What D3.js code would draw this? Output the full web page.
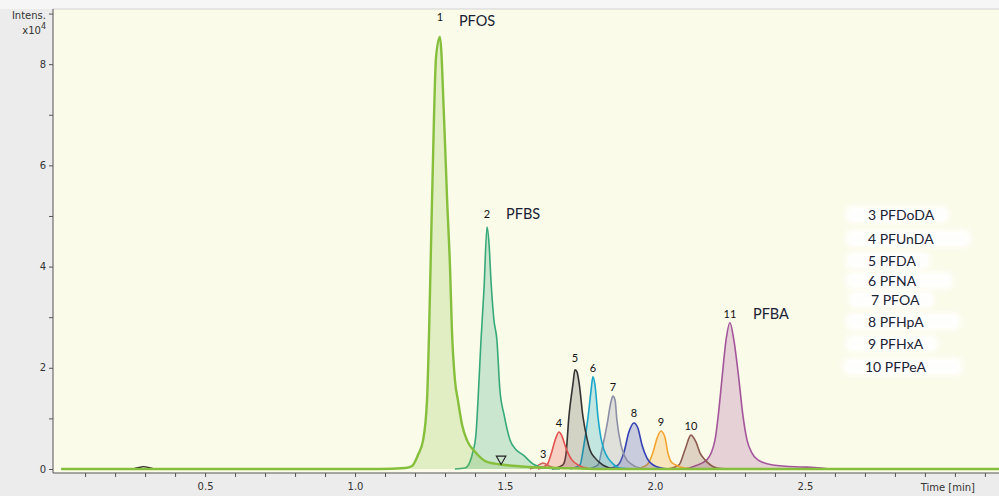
<!DOCTYPE html>
<html>
<head>
<meta charset="utf-8">
<script src="https://cdn.jsdelivr.net/npm/d3@7"></script>
<style>
  body { margin: 0; background: #fff; }
  svg { display: block; }
  .axis text { font-family: "DejaVu Sans", sans-serif; font-size: 10px; fill: #333; }
  .axis path, .axis line { stroke: #555; }
</style>
</head>
<body>
<script>
// chromatogram traces, [time (min), intensity (x10^4)]
var pfos = [[0.02,0],[1.08,0],[1.167,0.02],[1.19,0.06],[1.21,0.28],[1.227,0.57],[1.24,1.36],[1.247,2.75],[1.253,4.33],[1.263,6.9],[1.27,8.14],[1.283,8.54],[1.297,6.9],[1.307,5.32],[1.317,3.93],[1.323,2.75],[1.333,1.76],[1.343,1.36],[1.357,0.87],[1.373,0.57],[1.4,0.34],[1.44,0.14],[1.5,0.08],[1.583,0.04],[1.683,0.02],[1.817,0],[3.147,0]];
var pfbs = [[1.333,0],[1.367,0.02],[1.383,0.14],[1.393,0.34],[1.403,0.67],[1.41,1.36],[1.42,2.55],[1.43,3.56],[1.44,4.78],[1.447,4.43],[1.453,3.75],[1.463,2.95],[1.473,2.55],[1.483,1.56],[1.497,1.07],[1.517,0.57],[1.537,0.38],[1.56,0.28],[1.593,0.1],[1.633,0.02],[1.683,0]];
var pfdoda = [[1.583,0],[1.607,0.06],[1.627,0.12],[1.647,0.06],[1.67,0]];
var pfunda = [[1.61,0],[1.64,0.08],[1.653,0.28],[1.667,0.57],[1.68,0.73],[1.69,0.65],[1.7,0.47],[1.713,0.28],[1.723,0.18],[1.75,0.06],[1.79,0]];
var pfda = [[1.657,0],[1.693,0.08],[1.703,0.28],[1.713,1.03],[1.727,1.7],[1.733,1.96],[1.74,1.92],[1.747,1.7],[1.76,1.03],[1.773,0.61],[1.783,0.38],[1.8,0.22],[1.817,0.12],[1.85,0.02],[1.9,0]];
var pfna = [[1.717,0],[1.75,0.08],[1.763,0.47],[1.777,1.03],[1.787,1.56],[1.793,1.82],[1.8,1.66],[1.81,1.03],[1.82,0.61],[1.83,0.38],[1.843,0.22],[1.86,0.1],[1.883,0.02],[1.933,0]];
var pfoa = [[1.777,0],[1.81,0.08],[1.823,0.38],[1.84,0.87],[1.853,1.32],[1.86,1.44],[1.867,1.36],[1.873,0.97],[1.887,0.47],[1.9,0.24],[1.92,0.1],[1.95,0.02],[1.99,0]];
var pfhpa = [[1.843,0],[1.877,0.08],[1.897,0.34],[1.913,0.73],[1.93,0.91],[1.943,0.81],[1.957,0.47],[1.973,0.22],[2.0,0.06],[2.043,0]];
var pfhxa = [[1.937,0],[1.973,0.08],[1.993,0.32],[2.007,0.61],[2.02,0.75],[2.033,0.63],[2.043,0.32],[2.057,0.12],[2.1,0.02],[2.133,0]];
var pfpea = [[2.043,0],[2.08,0.08],[2.1,0.38],[2.12,0.67],[2.137,0.53],[2.15,0.32],[2.167,0.18],[2.207,0.02],[2.243,0]];
var pfba = [[2.1,0],[2.133,0.06],[2.173,0.18],[2.2,0.57],[2.213,1.17],[2.223,1.76],[2.237,2.55],[2.25,2.89],[2.263,2.55],[2.28,1.76],[2.293,1.07],[2.307,0.57],[2.323,0.32],[2.343,0.18],[2.393,0.08],[2.483,0.04],[2.533,0.03],[2.583,0]];
var blip = [[0.26,0],[0.28,0.03],[0.295,0.045],[0.31,0.03],[0.33,0]];

var peakNumbers = [1, 2, 3, 4, 5, 6, 7, 8, 9, 10, 11];
var traces = [pfos, pfbs, pfdoda, pfunda, pfda, pfna, pfoa, pfhpa, pfhxa, pfpea, pfba];
var colors = ["#86bf3c", "#36a97a", "#d4605a", "#e2504e", "#333333", "#1ba7c9", "#8d8fa6", "#3340b5", "#f4a531", "#8a5b4e", "#a3559a"];

// names written next to peaks 1, 2, 11
var namedPeaks = [1, 2, 11];
var peakNames = ["PFOS", "PFBS", "PFBA"];

var legendLines = ["3 PFDoDA", "4 PFUnDA", "5 PFDA", "6 PFNA", "7 PFOA", "8 PFHpA", "9 PFHxA", "10 PFPeA"];

var markerTime = 1.487, markerValue = 0.2;

var yTicks = [0, 1, 2, 3, 4, 5, 6, 7, 8, 9];
var xTicks = d3.range(1, 32).map(function(i) { return i / 10; });
var xLabels = [0.5, 1.0, 1.5, 2.0, 2.5];

var W = 999, H = 496;
var pL = 53, pT = 9, pR = 999, pB = 473;

var svg = d3.select("body").append("svg")
    .attr("width", W)
    .attr("height", H);

var defs = svg.append("defs");
defs.append("filter").attr("id", "soft")
    .attr("x", "-20%").attr("y", "-60%").attr("width", "140%").attr("height", "220%")
  .append("feGaussianBlur").attr("stdDeviation", 2.5);

// backgrounds
svg.append("rect").attr("width", W).attr("height", H).attr("fill", "#ececec");
svg.append("rect").attr("width", W).attr("height", pT).attr("fill", "#f6f6f6");
svg.append("rect")
    .attr("x", pL).attr("y", pT)
    .attr("width", pR - pL).attr("height", pB - pT)
    .attr("fill", "#fbfbea");
svg.append("line")
    .attr("x1", pL).attr("x2", pR).attr("y1", pT).attr("y2", pT)
    .attr("stroke", "#d4d4d4");

var x = d3.scaleLinear().domain([-0.007, 3.147]).range([pL, pR]);
var y = d3.scaleLinear().domain([0, 9.09]).range([469, pT]);

// legend with the white smudges behind it
var lg = svg.append("g");
var legendY = [215, 239, 261, 281, 300, 322, 344, 367];
legendLines.forEach(function(t, i) {
  var tx = (i === 7) ? 865 : (i === 4 ? 871 : 868);
  var txt = lg.append("text")
      .attr("x", tx).attr("y", legendY[i] + 5)
      .attr("font-family", "Lato, 'Open Sans', sans-serif")
      .attr("font-size", 14)
      .attr("fill", "#1a2233")
      .text(t);
  var bb = txt.node().getBBox();
  lg.insert("rect", "text")
      .attr("x", bb.x - 22).attr("y", bb.y)
      .attr("width", bb.width + 36 + (i % 2) * 22).attr("height", bb.height)
      .attr("rx", 6)
      .attr("filter", "url(#soft)")
      .attr("fill", "#ffffff").attr("opacity", 0.95);
});

var area = d3.area()
    .x(function(d) { return x(d[0]); })
    .y0(y(0))
    .y1(function(d) { return y(d[1]); })
    .curve(d3.curveMonotoneX);
var line = d3.line()
    .x(function(d) { return x(d[0]); })
    .y(function(d) { return y(d[1]); })
    .curve(d3.curveMonotoneX);

var plot = svg.append("g");

plot.append("path")
    .datum(blip)
    .attr("d", line)
    .attr("fill", "none")
    .attr("stroke", "#222")
    .attr("stroke-width", 1.3);

// draw back to front so PFOS (with the full baseline) sits on top
for (var i = traces.length - 1; i >= 0; i--) {
  plot.append("path")
      .datum(traces[i])
      .attr("d", area)
      .attr("fill", colors[i])
      .attr("fill-opacity", i === 4 ? 0.2 : (i === 0 ? 0.22 : 0.25));
  plot.append("path")
      .datum(traces[i])
      .attr("d", line)
      .attr("fill", "none")
      .attr("stroke", colors[i])
      .attr("stroke-width", i === 0 ? 2.4 : 1.6)
      .attr("stroke-linejoin", "round");
}

// peak numbers
var lift = {1: 16, 2: 9, 5: 8, 8: 6};
peakNumbers.forEach(function(n, i) {
  var apex = traces[i].reduce(function(a, b) { return b[1] > a[1] ? b : a; });
  plot.append("text")
      .attr("x", x(apex[0]))
      .attr("y", y(apex[1]) - (lift[n] || 5))
      .attr("text-anchor", "middle")
      .attr("font-family", "Lato, sans-serif")
      .attr("font-size", 11)
      .attr("fill", "#111")
      .text(n);
  var k = namedPeaks.indexOf(n);
  if (k >= 0) {
    plot.append("text")
        .attr("x", x(apex[0]) + (n === 11 ? 23 : 19))
        .attr("y", y(apex[1]) - (n === 1 ? 11 : (n === 2 ? 8 : 4)))
        .attr("font-family", "Lato, sans-serif")
        .attr("font-size", 14.5)
        .attr("fill", "#1a2233")
        .text(peakNames[k]);
  }
});

// open triangle marker
plot.append("path")
    .attr("d", d3.symbol().type(d3.symbolTriangle).size(40))
    .attr("transform", "translate(" + x(markerTime) + "," + y(markerValue) + ") rotate(180)")
    .attr("fill", "none")
    .attr("stroke", "#222")
    .attr("stroke-width", 1.1);

// axes
svg.append("g")
    .attr("class", "axis")
    .attr("transform", "translate(" + pL + ",0)")
    .call(d3.axisLeft(y).tickValues(yTicks).tickSize(4).tickPadding(3)
      .tickFormat(function(d) { return (d % 2 === 0 && d < 9) ? d : ""; }))
    .call(function(g) { g.select(".domain").attr("d", "M0," + pT + "V" + pB); });

svg.append("g")
    .attr("class", "axis")
    .attr("transform", "translate(0," + pB + ")")
    .call(d3.axisBottom(x).tickValues(xTicks).tickSize(4).tickPadding(6)
      .tickFormat(function(d) {
        var hit = xLabels.some(function(v) { return Math.abs(v - d) < 1e-6; });
        return hit ? d3.format(".1f")(d) : "";
      }))
    .call(function(g) { g.select(".domain").attr("d", "M" + pL + ",0H" + pR); });

svg.append("text")
    .attr("x", 975).attr("y", 491)
    .attr("text-anchor", "end")
    .attr("font-family", "DejaVu Sans, sans-serif")
    .attr("font-size", 10)
    .attr("fill", "#333")
    .text("Time [min]");

svg.append("text")
    .attr("x", 46).attr("y", 19)
    .attr("text-anchor", "end")
    .attr("font-family", "DejaVu Sans, sans-serif")
    .attr("font-size", 10)
    .attr("fill", "#333")
    .text("Intens.");

var sci = svg.append("text")
    .attr("x", 46).attr("y", 34)
    .attr("text-anchor", "end")
    .attr("font-family", "DejaVu Sans, sans-serif")
    .attr("font-size", 10)
    .attr("fill", "#333");
sci.append("tspan").text("x10");
sci.append("tspan").attr("dy", -5).attr("font-size", 8).text("4");
</script>
</body>
</html>
